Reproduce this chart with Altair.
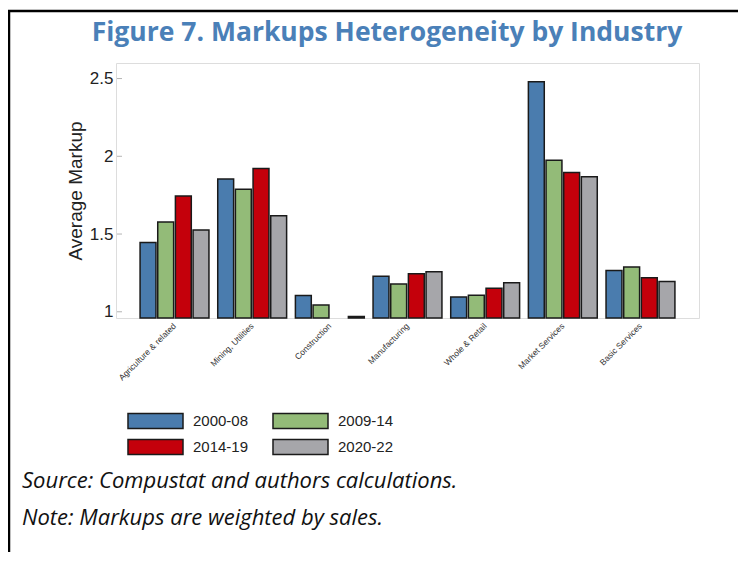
import altair as alt
import pandas as pd

# ---- data ----
industries = ["Agriculture & related", "Mining, Utilities", "Construction",
              "Manufacturing", "Whole & Retail", "Market Services", "Basic Services"]
periods = ["2000-08", "2009-14", "2014-19", "2020-22"]
v_2000_08 = [1.446, 1.854, 1.105, 1.228, 1.095, 2.479, 1.266]
v_2009_14 = [1.578, 1.788, 1.043, 1.178, 1.107, 1.974, 1.288]
v_2014_19 = [1.745, 1.921, None, 1.245, 1.152, 1.895, 1.219]
v_2020_22 = [1.526, 1.618, 0.970, 1.258, 1.187, 1.869, 1.195]
y_ticks = [1, 1.5, 2, 2.5]
colors = ["#4a7cae", "#93bb78", "#c4000b", "#a6a6aa"]

TITLE = "Figure 7. Markups Heterogeneity by Industry"
SOURCE = "Source: Compustat and authors calculations."
NOTE = "Note: Markups are weighted by sales."

series = [v_2000_08, v_2009_14, v_2014_19, v_2020_22]
rows = []
for p, vals in zip(periods, series):
    for ind, v in zip(industries, vals):
        if v is not None:
            rows.append({"industry": ind, "period": p, "value": v})
df = pd.DataFrame(rows)

W, H = 583, 255
YMIN, YMAX = 0.96, 2.6
yscale = alt.Scale(domain=[YMIN, YMAX], nice=False, zero=False)
yaxis = alt.Axis(values=y_ticks, format="~g", title="Average Markup",
                 titleFont="Liberation Sans", titleFontSize=19,
                 titleFontWeight="normal", titleColor="#222",
                 titlePadding=4, labelFont="Liberation Sans",
                 labelFontSize=17, labelColor="#222", labelPadding=3,
                 ticks=False, domain=False, grid=False)

bars = alt.Chart(df).mark_bar(stroke="#1a1a1a", strokeWidth=1.5, opacity=1).encode(
    x=alt.X("industry:N", sort=industries,
            scale=alt.Scale(paddingInner=0.113, paddingOuter=0.31),
            axis=alt.Axis(title=None, labelAngle=-45, labelAlign="right",
                          labelBaseline="middle", labelFontSize=8.5,
                          labelFont="Liberation Sans", labelColor="#333",
                          labelOffset=0, labelPadding=6, ticks=False,
                          domain=False)),
    xOffset=alt.XOffset("period:N", sort=periods,
                        scale=alt.Scale(paddingInner=0.1, paddingOuter=0)),
    y=alt.Y("value:Q", scale=yscale, axis=yaxis, title="Average Markup"),
    y2=alt.Y2(datum=YMIN),
    color=alt.Color("period:N", sort=periods,
                    scale=alt.Scale(domain=periods, range=colors),
                    legend=alt.Legend(title=None, orient="none", direction="horizontal",
                                      legendX=31, legendY=349.5, columns=2,
                                      columnPadding=20, rowPadding=5, padding=0,
                                      symbolType="M-3.667,-1L3.667,-1L3.667,1L-3.667,1Z",
                                      symbolSize=225, symbolStrokeColor="#1a1a1a",
                                      symbolStrokeWidth=1.5, symbolOpacity=1,
                                      labelFontSize=15, labelFont="Liberation Sans",
                                      labelColor="#222", labelOffset=29)),
)

ticks = alt.Chart(pd.DataFrame({"v": y_ticks})).mark_rule(
    color="#b5b5b5", strokeWidth=1).encode(
    y=alt.Y("v:Q", scale=yscale, axis=yaxis, title="Average Markup"),
    x=alt.value(1), x2=alt.value(6))

def text_layer(t, **kw):
    return alt.Chart(alt.Data(values=[{"t": t}])).mark_text(**kw)

title = text_layer(TITLE, font="Open Sans", fontSize=26.5, fontWeight="bold",
                   color="#4a80b8", align="center", baseline="middle").encode(
    text="t:N", x=alt.value(271), y=alt.value(-30))
source = text_layer(SOURCE, font="Open Sans", fontSize=22, fontStyle="italic",
                    color="#111", align="left", baseline="middle").encode(
    text="t:N", x=alt.value(-94), y=alt.value(418))
note = text_layer(NOTE, font="Open Sans", fontSize=22, fontStyle="italic",
                  color="#111", align="left", baseline="middle").encode(
    text="t:N", x=alt.value(-94), y=alt.value(455))

one = alt.Data(values=[{"a": 1}])
top_border = alt.Chart(one).mark_rule(color="black", strokeWidth=2.5).encode(
    x=alt.value(-108), x2=alt.value(640), y=alt.value(-52))
left_border = alt.Chart(one).mark_rule(color="black", strokeWidth=2.5).encode(
    x=alt.value(-107), y=alt.value(-53), y2=alt.value(500))

chart = alt.layer(bars, ticks, title, source, note, top_border, left_border).properties(
    width=W, height=H,
    padding={"left": 108, "top": 55, "right": 39, "bottom": 234},
    autosize=alt.AutoSizeParams(type="none"),
).configure_view(stroke="#cccccc", strokeWidth=1.5).configure(background="white")

chart.save("out.html", embed_options={"renderer": "svg", "actions": False})
